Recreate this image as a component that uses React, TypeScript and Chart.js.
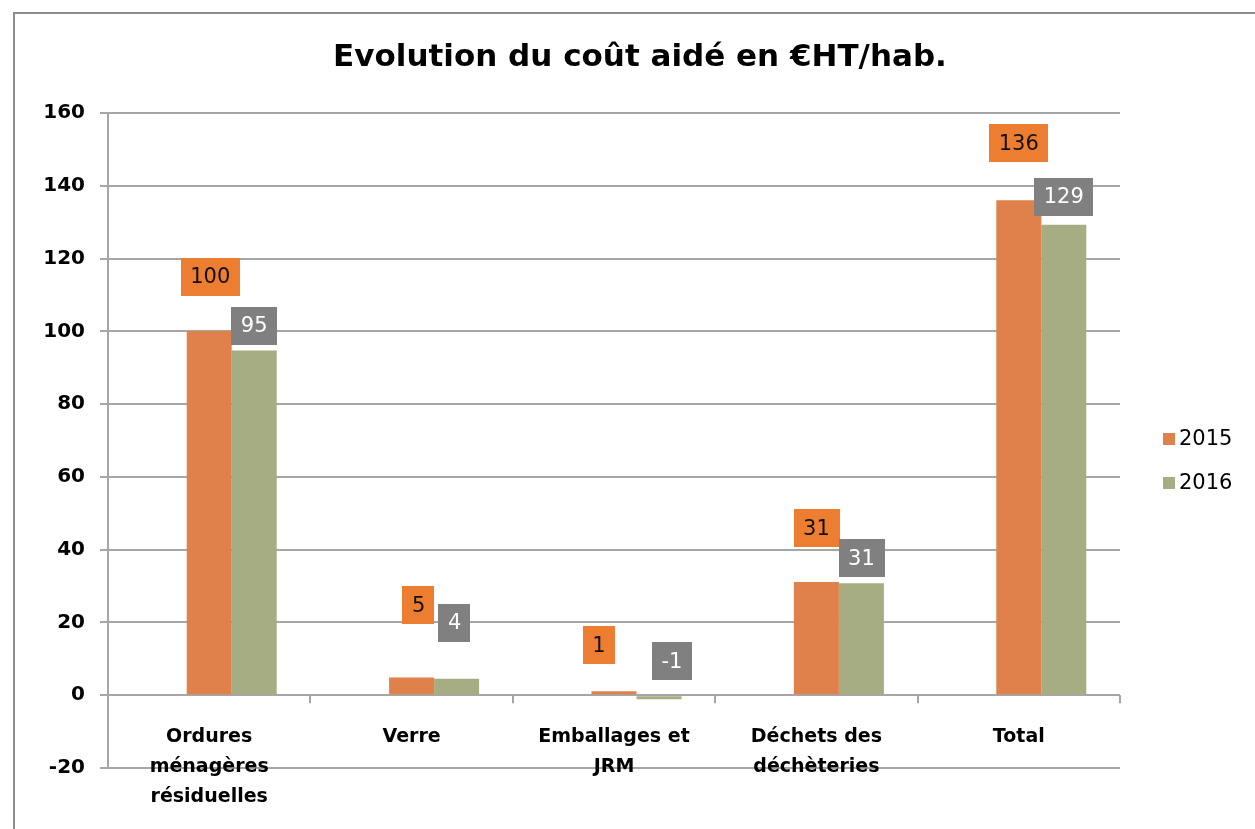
import React, { useEffect, useRef } from "react";
import { Chart, registerables } from "chart.js";

Chart.register(...registerables);

const titleText = "Evolution du coût aidé en €HT/hab.";
const categories = [
  ["Ordures", "ménagères", "résiduelles"],
  ["Verre"],
  ["Emballages et", "JRM"],
  ["Déchets des", "déchèteries"],
  ["Total"],
];
const seriesNames = ["2015", "2016"];
const valuesHidden = [null, null, null, null, null];
const values2015 = [100.1, 4.9, 1.1, 31.1, 136.0];
const values2016 = [94.7, 4.5, -1.1, 30.8, 129.3];
const labels2015 = ["100", "5", "1", "31", "136"];
const labels2016 = ["95", "4", "-1", "31", "129"];
const yTicks = [-20, 0, 20, 40, 60, 80, 100, 120, 140, 160];

const FONT = "'DejaVu Sans', sans-serif";
const BAR_COLORS = ["#E0804A", "#A6AD82"];
const BOX_COLORS = ["#ED7D31", "#808080"];
const BOX_TEXT = ["#111111", "#FFFFFF"];
const GRID = "#A6A6A6";

// label placement (style): [dx from bar centre, dy above bar top]
const labelPlacement = [
  [[1, 54], [7, 72], [-15, 46], [0, 54], [0, 57]],
  [[0, 25], [-2, 56], [13, 34], [0, 25], [0, 28]],
];

const decorPlugin = {
  id: "decor",
  beforeDraw(chart: any) {
    const { ctx, width, height } = chart;
    ctx.save();
    ctx.fillStyle = "#FFFFFF";
    ctx.fillRect(0, 0, width, height);
    ctx.strokeStyle = "#8C8C8C";
    ctx.lineWidth = 2;
    ctx.strokeRect(14, 13, width + 50, height + 50);
    ctx.restore();
  },
  afterDatasetsDraw(chart: any) {
    const { ctx } = chart;
    const y = chart.scales.y;
    const zeroY = y.getPixelForValue(0);
    ctx.save();
    ctx.font = `21px ${FONT}`;
    ctx.textAlign = "center";
    ctx.textBaseline = "middle";
    [labels2015, labels2016].forEach((labels, di) => {
      const meta = chart.getDatasetMeta(di + 1);
      meta.data.forEach((bar: any, i: number) => {
        const top = Math.min(bar.y, zeroY);
        const [dx, dy] = labelPlacement[di][i];
        const cx = bar.x + dx;
        const cy = top - dy;
        const tw = ctx.measureText(labels[i]).width;
        const bw = tw + 19;
        const bh = 38;
        ctx.fillStyle = BOX_COLORS[di];
        ctx.fillRect(Math.round(cx - bw / 2), Math.round(cy - bh / 2), Math.round(bw), bh);
        ctx.fillStyle = BOX_TEXT[di];
        ctx.fillText(labels[i], cx, cy + 1);
      });
    });
    ctx.restore();
  },
  afterDraw(chart: any) {
    const { ctx, chartArea } = chart;
    const y = chart.scales.y;
    const x = chart.scales.x;
    const zeroY = y.getPixelForValue(0);
    ctx.save();
    // title
    ctx.fillStyle = "#000000";
    ctx.font = `bold 31px ${FONT}`;
    ctx.textAlign = "center";
    ctx.textBaseline = "middle";
    ctx.fillText(titleText, 640, 58);
    // x tick marks on zero line
    const n = categories.length;
    const step = (chartArea.right - chartArea.left) / n;
    ctx.strokeStyle = GRID;
    ctx.lineWidth = 2;
    for (let k = 1; k <= n; k++) {
      const px = Math.round(chartArea.left + k * step);
      ctx.beginPath();
      ctx.moveTo(px, zeroY);
      ctx.lineTo(px, zeroY + 8);
      ctx.stroke();
    }
    // category labels
    ctx.fillStyle = "#000000";
    ctx.font = `bold 19px ${FONT}`;
    categories.forEach((lines, i) => {
      const cx = x.getPixelForValue(i);
      lines.forEach((ln, j) => {
        ctx.fillText(ln, cx, zeroY + 42 + j * 30);
      });
    });
    // legend
    ctx.font = `21px ${FONT}`;
    ctx.textAlign = "left";
    seriesNames.forEach((name, i) => {
      const cy = 439 + i * 44;
      ctx.fillStyle = BAR_COLORS[i];
      ctx.fillRect(1163, cy - 6, 12, 12);
      ctx.fillStyle = "#000000";
      ctx.fillText(name, 1179, cy + 1);
    });
    ctx.restore();
  },
};

export default function App() {
  const ref = useRef<HTMLCanvasElement | null>(null);
  useEffect(() => {
    if (!ref.current) return;
    const common = { categoryPercentage: 0.667, barPercentage: 1 };
    const chart = new Chart(ref.current, {
      type: "bar",
      data: {
        labels: categories.map((c) => c.join(" ")),
        datasets: [
          { label: "", data: valuesHidden, backgroundColor: "rgba(0,0,0,0)", ...common },
          { label: seriesNames[0], data: values2015, backgroundColor: BAR_COLORS[0], ...common },
          { label: seriesNames[1], data: values2016, backgroundColor: BAR_COLORS[1], ...common },
        ],
      },
      options: {
        responsive: false,
        animation: false,
        devicePixelRatio: 1,
        layout: { padding: { top: 113, right: 135, bottom: 61, left: 0 } },
        plugins: {
          legend: { display: false },
          title: { display: false },
          tooltip: { enabled: false },
        },
        scales: {
          x: {
            grid: { display: false },
            border: { display: false },
            ticks: { display: false },
            afterFit: (s: any) => {
              s.height = 0;
            },
          },
          y: {
            min: -20,
            max: 160,
            afterBuildTicks: (s: any) => {
              s.ticks = yTicks.map((v) => ({ value: v }));
            },
            afterFit: (s: any) => {
              s.width = 108;
            },
            grid: { color: GRID, lineWidth: 2, tickLength: 8 },
            border: { display: true, color: GRID, width: 2 },
            ticks: {
              color: "#000000",
              padding: 15,
              font: { family: FONT, size: 20, weight: "bold" },
            },
          },
        },
      },
      plugins: [decorPlugin],
    } as any);
    return () => chart.destroy();
  }, []);
  return (
    <div style={{ position: "fixed", left: 0, top: 0, width: 1255, height: 829, background: "#fff" }}>
      <canvas ref={ref} width={1255} height={829} style={{ display: "block" }} />
    </div>
  );
}
